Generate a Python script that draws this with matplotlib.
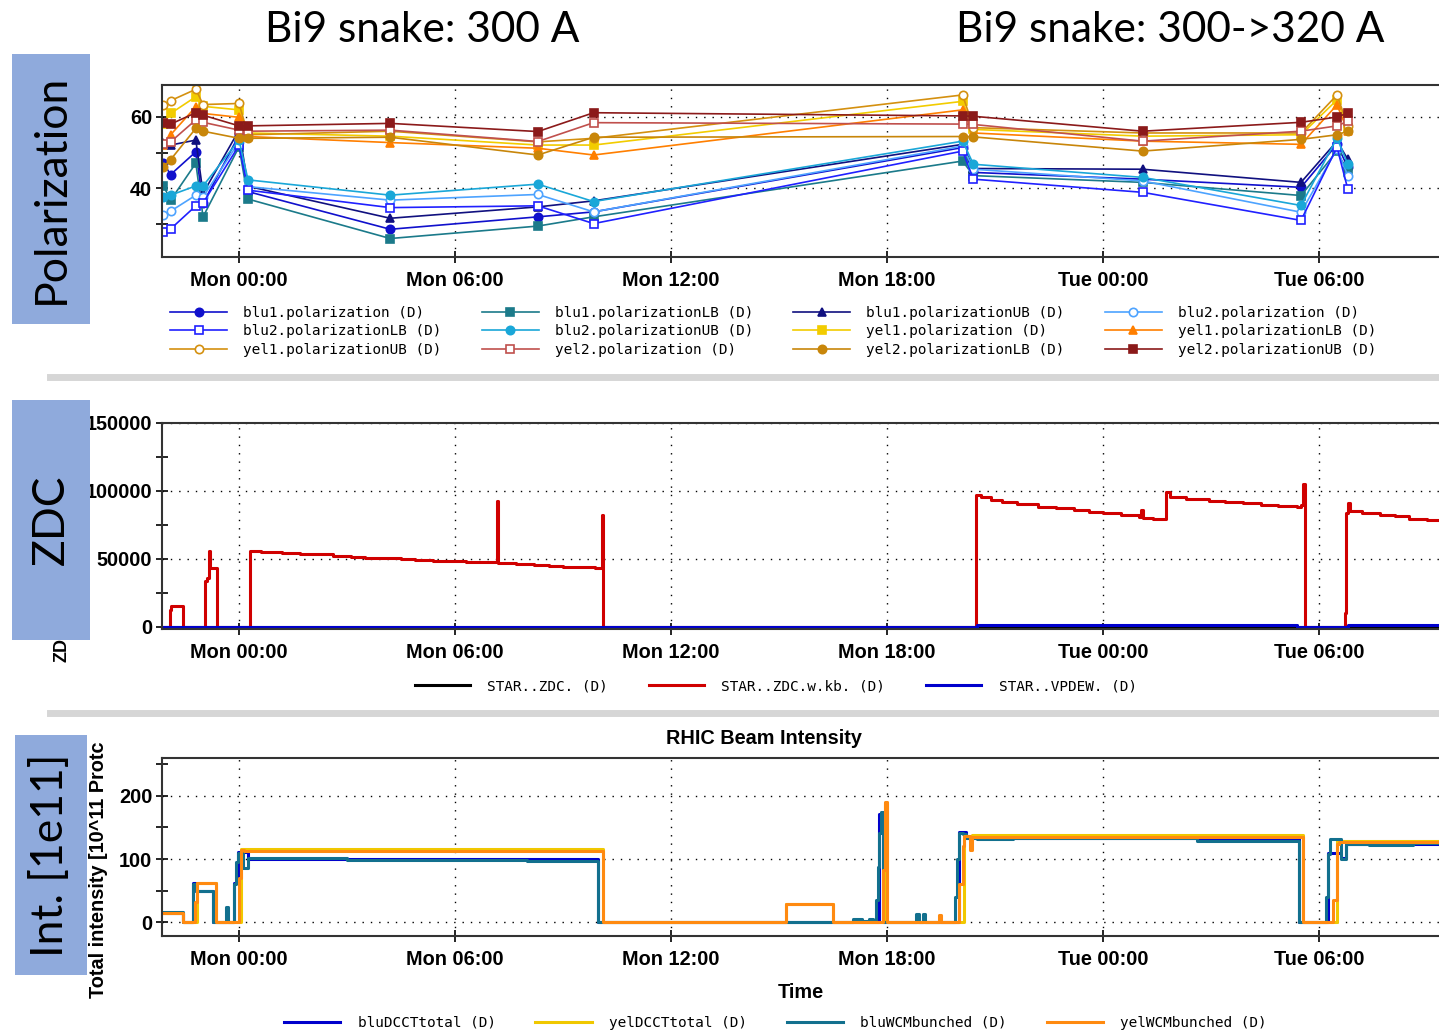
import numpy as np
import matplotlib.pyplot as plt
from matplotlib.lines import Line2D
from matplotlib.patches import Rectangle
from matplotlib.ticker import MultipleLocator

W, H = 1439, 1033

# x axis in hours since Mon 00:00
tick_hours = [0, 6, 12, 18, 24, 30]
tick_labels = ["Mon 00:00", "Mon 06:00", "Mon 12:00", "Mon 18:00", "Tue 00:00", "Tue 06:00"]

# ---- polarization measurements
pol_time = [-2.1, -1.9, -1.2, -1.0, 0.0, 0.25, 4.2, 8.3, 9.85, 20.1, 20.4, 25.1, 29.5, 30.5, 30.8]
blu1_pol   = [47.0, 43.8, 50.2, 35.7, 54.9, 39.0, 28.4, 31.9, 33.3, 51.4, 44.4, 42.5, 40.2, 52.3, 45.8]
blu1_polLB = [40.6, 36.6, 47.0, 31.9, 51.6, 36.9, 25.8, 29.3, 31.9, 47.6, 43.5, 41.6, 37.9, 50.4, 44.4]
blu1_polUB = [52.6, 52.1, 53.5, 38.5, 56.3, 40.5, 31.5, 34.7, 36.4, 52.3, 45.5, 45.3, 41.6, 53.2, 48.1]
blu2_pol   = [32.4, 33.5, 38.0, 37.5, 53.0, 40.4, 36.6, 38.2, 33.3, 51.8, 45.3, 42.0, 33.2, 51.0, 43.5]
blu2_polLB = [27.7, 28.5, 35.0, 35.8, 52.0, 39.4, 34.5, 35.0, 30.0, 50.4, 42.5, 38.8, 30.9, 51.5, 39.7]
blu2_polUB = [37.6, 38.0, 40.6, 40.6, 53.5, 42.3, 38.0, 41.1, 36.2, 53.2, 46.7, 43.0, 35.1, 54.1, 46.7]
yel1_pol   = [58.0, 61.0, 65.7, 63.0, 62.0, 55.5, 54.6, 52.1, 52.1, 64.4, 56.5, 54.6, 55.0, 64.8, 57.0]
yel1_polLB = [52.1, 55.0, 62.9, 61.0, 59.9, 54.5, 52.8, 51.2, 49.3, 62.0, 55.5, 53.2, 52.3, 63.4, 56.0]
yel1_polUB = [63.4, 64.6, 67.8, 63.5, 63.8, 55.0, 56.0, 53.0, 54.0, 66.2, 57.0, 55.5, 55.5, 66.2, 57.5]
yel2_pol   = [52.5, 53.0, 59.2, 58.5, 56.3, 56.0, 56.3, 53.1, 58.4, 58.0, 57.9, 53.2, 56.0, 57.5, 58.8]
yel2_polLB = [46.0, 48.0, 56.8, 56.0, 54.0, 54.0, 54.3, 49.3, 54.3, 54.5, 54.4, 50.4, 53.7, 55.0, 56.0]
yel2_polUB = [58.2, 58.0, 61.2, 60.5, 57.5, 57.5, 58.2, 55.9, 61.2, 60.3, 60.2, 56.0, 58.5, 60.0, 61.1]

pol_names = ["blu1.polarization (D)", "blu1.polarizationLB (D)", "blu1.polarizationUB (D)",
             "blu2.polarization (D)", "blu2.polarizationLB (D)", "blu2.polarizationUB (D)",
             "yel1.polarization (D)", "yel1.polarizationLB (D)", "yel1.polarizationUB (D)",
             "yel2.polarization (D)", "yel2.polarizationLB (D)", "yel2.polarizationUB (D)"]
pol_values = [blu1_pol, blu1_polLB, blu1_polUB, blu2_pol, blu2_polLB, blu2_polUB,
              yel1_pol, yel1_polLB, yel1_polUB, yel2_pol, yel2_polLB, yel2_polUB]

# ---- ZDC rates (step data)
zdc_time = [-2.14, 33.5]
zdc_vals = [0, 0]
zdckb_time = [-2.14, -1.92, -1.88, -1.56, -0.94, -0.88, -0.83, -0.80, -0.62, 0.31, 0.6, 1.2,
              1.7, 2.2, 2.6, 3.1, 3.5, 4.0, 4.5, 4.9, 5.4, 5.9, 6.3, 6.8, 7.16, 7.2, 7.7,
              8.2, 8.6, 9.0, 9.4, 9.9, 10.08, 10.12,
              20.48, 20.6, 20.9, 21.2, 21.6, 22.2, 22.7, 23.2, 23.6, 24.0, 24.5, 25.0, 25.05,
              25.12, 25.4, 25.75, 25.85, 26.3, 26.95, 27.4, 27.9, 28.4, 28.86, 29.4, 29.5,
              29.56, 29.6, 30.72, 30.76, 30.8, 30.85, 31.2, 31.7, 32.1, 32.5, 33.0, 33.5]
zdckb_vals = [0, 12500, 15200, 0, 33500, 36000, 55500, 43500, 0, 55500, 55000, 54500,
              54000, 53600, 52500, 51500, 51000, 50500, 49800, 49300, 48800, 48300, 47900, 47500,
              93000, 47200, 46300, 45500, 44900, 44300, 43800, 43200, 82000, 0,
              97300, 95500, 93500, 92000, 90500, 88500, 87200, 86000, 84800, 83600, 82500,
              81200, 86000, 80500, 79500, 99000, 95500, 94000, 92400, 91800, 91000, 89800,
              88800, 88000, 90000, 105000, 0, 10000, 84000, 91000, 85000, 84000, 82700, 81500,
              79500, 78300, 77300]
vpd_time = [-2.14, 20.5, 29.4, 30.8, 33.5]
vpd_vals = [0, 1500, 0, 1500, 1500]

# ---- beam intensity (step data)
blu_dcct_time = [-2.14, -1.56, -1.29, -1.2, -0.72, -0.15, -0.02, 0.25, 9.97, 17.78, 17.9,
                 20.0, 20.2, 29.45, 30.24, 30.6, 30.75, 33.5]
blu_dcct_vals = [15.0, 0, 62, 50, 0, 62, 111, 100, 0, 172, 0,
                 143, 133, 0, 110, 101, 124, 124]
yel_dcct_time = [-2.14, -1.56, -1.18, -0.64, 0.05, 10.1, 15.2, 16.5, 17.95, 18.0,
                 20.15, 20.35, 29.55, 30.5, 33.5]
yel_dcct_vals = [14.0, 0, 62, 0, 116, 0, 29, 0, 189, 0,
                 137, 137.5, 0, 128, 128]
blu_wcm_time = [-2.14, -1.56, -1.29, -1.2, -0.72, -0.36, -0.30, -0.15, -0.08, -0.02, 0.12, 0.25,
                3.0, 6.5, 8.0, 9.97, 17.06, 17.3, 17.5, 17.6, 17.7, 17.74, 17.78, 17.82, 17.9,
                18.8, 18.9, 19.0, 19.05, 19.9, 19.95, 20.0, 20.1, 20.2, 20.5, 21.5, 26.6, 29.45,
                30.2, 30.24, 30.3, 30.6, 30.75, 31.4, 32.6, 33.5]
blu_wcm_vals = [15.4, 0, 61, 50, 0, 24, 0, 60, 95, 110, 86, 101,
                99, 98, 97, 0, 5, 1, 5, 1, 35, 87, 142, 174, 0,
                13, 0, 13, 0, 40, 100, 142, 140, 134, 132, 133.5, 129, 0,
                40, 108, 132, 100, 124, 123, 126, 126]
yel_wcm_time = [-2.14, -1.56, -1.22, -1.18, -0.64, 0.0, 0.05, 0.15, 10.1, 15.2, 16.5,
                17.9, 17.95, 18.0, 19.45, 19.5, 20.0, 20.1, 20.15, 20.3, 20.35, 29.55,
                30.4, 30.5, 30.55, 33.5]
yel_wcm_vals = [13.7, 0, 32, 62, 0, 70, 115, 113, 0, 28.8, 0,
                82, 190, 0, 11.5, 0, 60, 120, 137, 114, 135.6, 0,
                35, 124, 127, 127]

# styles
pol_colors = ['#1010CC', '#1B7A8A', '#10107F', '#4DA3FF', '#2020FF', '#1AA7D8',
              '#F2CC00', '#FF7F00', '#D4900F', '#C0504D', '#C8860A', '#8B1A1A']
pol_markers = ['o', 's', '^', 'o', 's', 'o', 's', '^', 'o', 's', 'o', 's']
pol_filled = [True, True, True, False, False, True, True, True, False, False, True, True]

XMIN, XMAX = -2.14, 33.5
MONO = 'DejaVu Sans Mono'
SANS = 'Liberation Sans'
plt.rcParams['font.family'] = ['DejaVu Sans']


def px_axes(fig, left, top, right, bottom):
    return fig.add_axes([left / W, 1 - bottom / H, (right - left) / W, (bottom - top) / H])


def style_axes(ax, ymajor, yminor):
    ax.set_xlim(XMIN, XMAX)
    ax.set_xticks(tick_hours)
    ax.set_xticklabels(tick_labels)
    ax.yaxis.set_major_locator(MultipleLocator(ymajor))
    ax.yaxis.set_minor_locator(MultipleLocator(yminor))
    ax.grid(True, which='major', color='black', linestyle=(0, (1, 5)), linewidth=1.0)
    ax.tick_params(which='both', direction='inout', length=8, width=1.2, pad=6)
    ax.tick_params(axis='y', which='both', pad=3)
    for lab in ax.get_xticklabels() + ax.get_yticklabels():
        lab.set_fontfamily(SANS)
        lab.set_fontweight('bold')
        lab.set_fontsize(14.3)
    for s in ax.spines.values():
        s.set_linewidth(1.5)
        s.set_color('#333333')


fig = plt.figure(figsize=(W / 100, H / 100), dpi=100)

# ---------- polarization panel
ax1 = px_axes(fig, 162, 85, 1445, 257)
handles = []
for name, vals, c, m, f in zip(pol_names, pol_values, pol_colors, pol_markers, pol_filled):
    h, = ax1.plot(pol_time, vals, color=c, marker=m, markersize=6, linewidth=1.2,
                  markerfacecolor=c if f else 'white', markeredgecolor=c,
                  markeredgewidth=1.2, label=name)
    handles.append(h)
ax1.set_ylim(20.6, 69)
style_axes(ax1, 20, 10)

order = [0, 4, 8, 1, 5, 9, 2, 6, 10, 3, 7, 11]
fig.legend([handles[i] for i in order], [pol_names[i] for i in order], ncol=4,
           loc='upper left', bbox_to_anchor=(170 / W, 1 - 306 / H), frameon=False,
           prop={'family': MONO, 'size': 10.4}, borderpad=0, borderaxespad=0,
           handlelength=3.96, handletextpad=1.1, columnspacing=2.78, labelspacing=0.3,
           numpoints=1)

# ---------- ZDC panel
ax2 = px_axes(fig, 162, 423, 1445, 629)
l1, = ax2.plot(zdc_time, zdc_vals, color='black', lw=2.2, drawstyle='steps-post',
               label="STAR..ZDC. (D)")
l2, = ax2.plot(zdckb_time, zdckb_vals, color='#D00000', lw=2.2, drawstyle='steps-post',
               label="STAR..ZDC.w.kb. (D)")
l3, = ax2.plot(vpd_time, vpd_vals, color='#0000CC', lw=2.2, drawstyle='steps-post',
               label="STAR..VPDEW. (D)")
ax2.set_ylim(-1500, 150000)
style_axes(ax2, 50000, 25000)
fig.legend([l1, l2, l3], [l.get_label() for l in (l1, l2, l3)], ncol=3,
           loc='upper left', bbox_to_anchor=(415 / W, 1 - 679 / H), frameon=False,
           prop={'family': MONO, 'size': 10.4}, borderpad=0, borderaxespad=0,
           handlelength=3.8, handletextpad=1.2, columnspacing=2.85)

# ---------- intensity panel
ax3 = px_axes(fig, 162, 758, 1445, 936)
i1, = ax3.plot(blu_dcct_time, blu_dcct_vals, color='#0000CC', lw=2.2, drawstyle='steps-post',
               label="bluDCCTtotal (D)")
i2, = ax3.plot(yel_dcct_time, yel_dcct_vals, color='#F0C800', lw=2.2, drawstyle='steps-post',
               label="yelDCCTtotal (D)")
i3, = ax3.plot(blu_wcm_time, blu_wcm_vals, color='#12708E', lw=2.2, drawstyle='steps-post',
               label="bluWCMbunched (D)")
i4, = ax3.plot(yel_wcm_time, yel_wcm_vals, color='#FF8A10', lw=2.2, drawstyle='steps-post',
               label="yelWCMbunched (D)")
ax3.set_ylim(-22.2, 260.3)
style_axes(ax3, 100, 50)
fig.legend([i1, i2, i3, i4], [l.get_label() for l in (i1, i2, i3, i4)], ncol=4,
           loc='upper left', bbox_to_anchor=(284 / W, 1 - 1016 / H), frameon=False,
           prop={'family': MONO, 'size': 10.4}, borderpad=0, borderaxespad=0,
           handlelength=3.9, handletextpad=1.2, columnspacing=2.75)
fig.text(764 / W, 1 - 739 / H, "RHIC Beam Intensity", ha='center', va='center',
         fontsize=14.3, family=SANS, weight='bold')
fig.text(801 / W, 1 - 992 / H, "Time", ha='center', va='center',
         fontsize=14.3, family=SANS, weight='bold')
fig.text(98 / W, 1 - 998 / H, "Total intensity [10^11 Protc", rotation=90,
         ha='center', va='bottom', fontsize=14.3, family=SANS, weight='bold')

# visible end of the ZDC axis label below the blue box
fig.text(62 / W, 1 - 662 / H, "ZD", rotation=90, ha='center', va='bottom',
         fontsize=13, family=SANS, weight='bold')

# separators
for y in (377, 713):
    fig.add_artist(Line2D([50 / W, 1.0], [1 - y / H] * 2, color='#D6D6D6', lw=5))

# blue label boxes
boxes = [(12, 54, 90, 324, "Polarization"), (12, 400, 90, 640, "ZDC"),
         (15, 735, 87, 975, "Int. [1e11]")]
for x0, y0, x1, y1, txt in boxes:
    fig.add_artist(Rectangle((x0 / W, 1 - y1 / H), (x1 - x0) / W, (y1 - y0) / H,
                             transform=fig.transFigure, facecolor='#8FAADC',
                             edgecolor='none', zorder=5))
    fig.text((x0 + x1) / 2 / W, 1 - (y0 + y1) / 2 / H, txt, rotation=90, ha='center',
             va='center', fontsize=32, family='Lato', zorder=6)

fig.text(422 / W, 1 - 30 / H, "Bi9 snake: 300 A", ha='center', va='center',
         fontsize=30.5, family='Lato')
fig.text(1170 / W, 1 - 30 / H, "Bi9 snake: 300->320 A", ha='center', va='center',
         fontsize=30.5, family='Lato')

fig.savefig('out.png', dpi=100)
